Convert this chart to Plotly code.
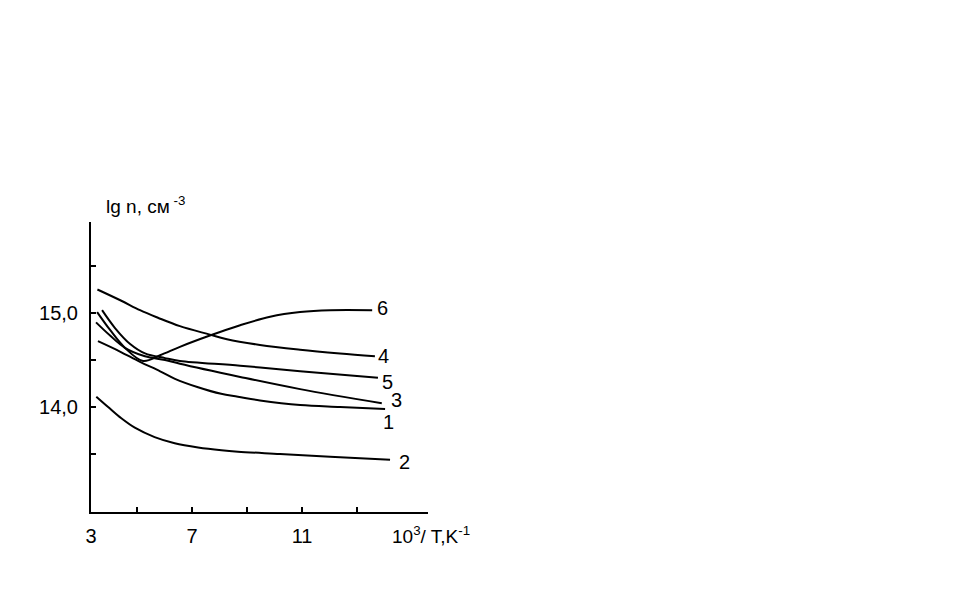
import plotly.graph_objects as go

# ---- data ----
x1 = [3.58, 4.38, 5.11, 5.84, 6.38, 7.22, 8.06, 8.67, 9.47, 10.93, 12.38, 14.02]
y1 = [14.70, 14.59, 14.48, 14.38, 14.30, 14.21, 14.14, 14.11, 14.07, 14.02, 14.00, 13.98]

x2 = [3.52, 3.95, 4.43, 4.92, 5.64, 6.37, 7.22, 8.07, 8.67, 10.20, 12.02, 14.20]
y2 = [14.11, 14.00, 13.88, 13.78, 13.68, 13.615, 13.57, 13.54, 13.525, 13.50, 13.47, 13.44]

x3 = [3.51, 4.02, 4.56, 5.29, 6.02, 6.56, 8.75, 10.93, 13.90]
y3 = [14.90, 14.76, 14.63, 14.54, 14.50, 14.46, 14.32, 14.19, 14.04]

x4 = [3.56, 4.43, 5.11, 5.76, 6.56, 7.65, 8.27, 9.47, 10.93, 12.38, 13.65]
y4 = [15.25, 15.13, 15.03, 14.95, 14.86, 14.77, 14.72, 14.66, 14.61, 14.57, 14.54]

x5 = [3.73, 4.20, 4.75, 5.29, 6.02, 6.56, 8.75, 10.93, 13.76]
y5 = [15.03, 14.84, 14.67, 14.57, 14.52, 14.49, 14.44, 14.38, 14.31]

x6 = [3.55, 4.02, 4.56, 5.22, 5.84, 6.56, 7.65, 8.75, 9.84, 10.93, 12.02, 13.55]
y6 = [15.01, 14.82, 14.63, 14.49, 14.55, 14.64, 14.76, 14.87, 14.96, 15.01, 15.03, 15.03]

curve_names = ["1", "2", "3", "4", "5", "6"]
label_x = [14.13, 14.71, 14.45, 13.98, 14.09, 13.91]
label_y = [13.84, 13.41, 14.07, 14.54, 14.27, 15.05]

x_tickvals = [3.327, 5, 7, 9, 11, 13]
x_ticktext = ["3", " ", "7", " ", "11", " "]
y_tickvals = [13.5, 14.0, 14.5, 15.0, 15.5]
y_ticktext = [" ", "14,0", " ", "15,0", " "]

FONT = "Liberation Sans, Arial, sans-serif"

fig = go.Figure()
for xs, ys in [(x1, y1), (x2, y2), (x3, y3), (x4, y4), (x5, y5), (x6, y6)]:
    fig.add_trace(go.Scatter(x=xs, y=ys, mode="lines",
                             line=dict(color="black", width=2, shape="spline", smoothing=1.0),
                             showlegend=False, hoverinfo="skip"))

for name, lx, ly in zip(curve_names, label_x, label_y):
    fig.add_annotation(x=lx, y=ly, xref="x", yref="y", text=name, showarrow=False,
                       font=dict(family=FONT, size=20, color="black"))

# axis titles
fig.add_annotation(x=(104 - 91) / 337, y=(512 - 205) / 290, xref="paper", yref="paper",
                   text="lg n, см<sup> -3</sup>", showarrow=False, xanchor="left", yanchor="middle",
                   font=dict(family=FONT, size=19, color="black"))
fig.add_annotation(x=(390 - 91) / 337, y=(512 - 535) / 290, xref="paper", yref="paper",
                   text="10<sup>3</sup>/ T,K<sup>-1</sup>", showarrow=False, xanchor="left", yanchor="middle",
                   font=dict(family=FONT, size=19, color="black"))

fig.update_layout(
    width=940, height=589,
    margin=dict(l=83, r=520, t=214, b=85),
    paper_bgcolor="white", plot_bgcolor="white",
    font=dict(family=FONT, size=20, color="black"),
    xaxis=dict(range=[3.327, 15.58], showgrid=False, zeroline=False,
               showline=True, linecolor="black", linewidth=2,
               ticks="inside", ticklen=5, tickwidth=2, tickcolor="black",
               tickvals=x_tickvals, ticktext=x_ticktext, ticklabelstandoff=5),
    yaxis=dict(range=[12.883, 15.968], showgrid=False, zeroline=False,
               showline=True, linecolor="black", linewidth=2,
               ticks="inside", ticklen=5, tickwidth=2, tickcolor="black",
               tickvals=y_tickvals, ticktext=y_ticktext, ticklabelstandoff=7),
)

fig.write_html("out.html")
